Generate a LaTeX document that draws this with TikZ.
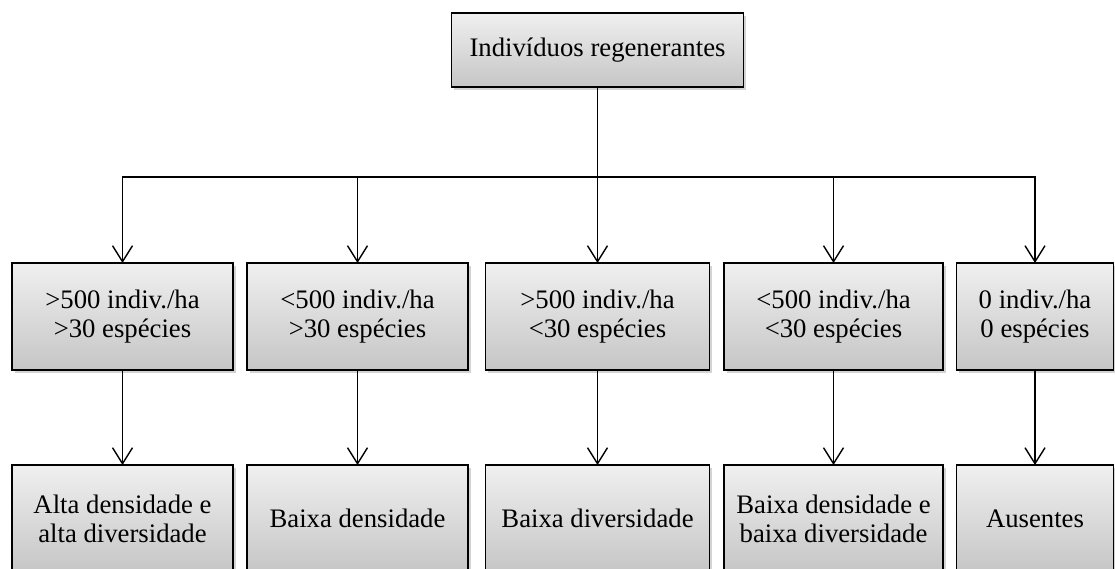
\documentclass[tikz,border=0pt]{standalone}
\usepackage{fontspec}
\setmainfont{Liberation Serif}
\usetikzlibrary{arrows.meta,shadows}
\begin{document}
\begin{tikzpicture}
	[x=0.025cm,y=-0.025cm,
	box/.style={rectangle,draw,line width=1pt,top color=gray!12,bottom color=gray!45,
		drop shadow={opacity=0.35,shadow xshift=2pt,shadow yshift=-2pt},
		inner sep=0pt,outer sep=0pt,align=center,
		font=\fontsize{19}{20.5}\selectfont,minimum height=2.675cm},
	>={Straight Barb[length=4mm,width=5mm]}]
    \useasboundingbox (0,0) rectangle (1115,568);
    \node[box,minimum width=7.3cm,minimum height=1.85cm] (T) at (597.5,50) {Indivíduos regenerantes};
    \node[box,minimum width=5.525cm] (A) at (122.5,316.5) {>500 indiv./ha\\>30 espécies};
    \node[box,minimum width=5.525cm] (B) at (357.5,316.5) {<500 indiv./ha\\>30 espécies};
    \node[box,minimum width=5.6cm] (C) at (597.5,316.5) {>500 indiv./ha\\<30 espécies};
    \node[box,minimum width=5.475cm] (D) at (833.5,316.5) {<500 indiv./ha\\<30 espécies};
    \node[box,minimum width=3.925cm] (E) at (1035,316.5) {0 indiv./ha\\0 espécies};
    \node[box,minimum width=5.525cm] (F) at (122.5,518.5) {Alta densidade e\\alta diversidade};
    \node[box,minimum width=5.525cm] (G) at (357.5,518.5) {Baixa densidade};
    \node[box,minimum width=5.6cm] (H) at (597.5,518.5) {Baixa diversidade};
    \node[box,minimum width=5.475cm] (I) at (833.5,518.5) {Baixa densidade e\\baixa diversidade};
    \node[box,minimum width=3.925cm] (J) at (1035,518.5) {Ausentes};
    \coordinate (S) at (597.5,177);
    \draw [line width=1pt] (T.south) -- (S);
    \draw [line width=1pt,->] (S) -| (A.north);
    \draw [line width=1pt,->] (S) -| (B.north);
    \draw [line width=1pt,->] (S) -- (C.north);
    \draw [line width=1pt,->] (S) -| (D.north);
    \draw [line width=1pt,->] (S) -| (E.north);
    \draw [line width=1pt,->] (A) -- (F);
    \draw [line width=1pt,->] (B) -- (G);
    \draw [line width=1pt,->] (C) -- (H);
    \draw [line width=1pt,->] (D) -- (I);
    \draw [line width=1pt,->] (E) -- (J);
\end{tikzpicture}
\end{document}
